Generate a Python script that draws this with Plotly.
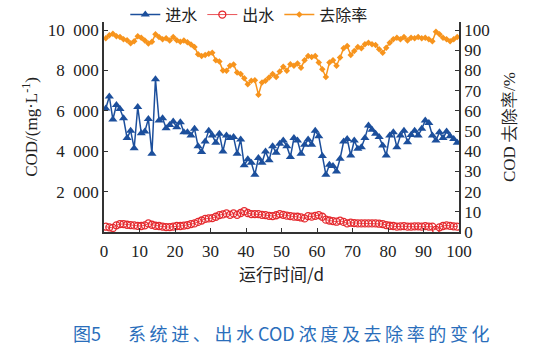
import plotly.graph_objects as go

# Day positions (one sample per day)
days = [d + 0.5 for d in range(100)]

influent = [6120, 6710, 5570, 6290, 6090, 5630, 4650, 5020, 4150, 6190,
            4890, 4975, 5600, 3880, 7570, 5520, 5630, 5140, 5300, 5470,
            5190, 5430, 4940, 4940, 4780, 5110, 4250, 3960, 4480, 5020,
            4780, 4420, 4860, 3990,
            4780, 4650, 4700, 3880, 4580, 3300, 3600, 3430, 2840, 3660,
            3430, 3990, 3550, 4250, 3920, 4370, 4530, 4250, 3710, 4650,
            4530, 3880, 4320, 4580, 4320, 5020, 4740, 3760, 2840, 3330,
            3270, 3000, 3630, 4480,
            4610, 3790, 4530, 4120, 4200, 4650, 5270, 5070, 4860, 4700,
            4290, 3790, 4780, 4940, 4200, 4780, 5020, 4450, 4810, 5020,
            4780, 5110, 5520, 5400, 4780, 4530, 4940, 4650, 4975, 4740,
            4610, 4420]

effluent = [263, 230, 200, 330, 394, 394, 360, 340, 328, 300,
            296, 330, 427, 360, 310, 296, 270, 240, 240, 263,
            296, 296, 320, 345, 394, 427, 500, 570, 650, 673,
            690, 755, 837, 870, 919, 850, 919, 850, 940, 1030,
            940, 887, 887, 887, 850, 837, 800, 788, 830, 887,
            850, 810, 788, 760, 755, 720, 673, 788, 760, 800,
            837, 755, 610, 570, 540, 509, 560, 500, 427, 460,
            440, 427, 427, 427, 427, 427, 427, 410, 394, 345,
            310, 296, 263, 280, 290, 263, 263, 280, 280, 263,
            290, 270, 263, 110, 230, 296, 330, 300, 280, 263]

removal = [95.9, 97.5, 98.2, 97, 96.6, 95.4, 95, 93.5, 94.5, 97,
           96.2, 94.9, 93.3, 94.2, 97.9, 96.6, 95.4, 95.9, 94.9, 96.6,
           95, 94.2, 94.9, 94, 92.8, 91.6, 88, 87.2, 87.7, 88.3,
           88.8, 85, 84.5, 80,
           79.8, 82.3, 83, 79, 78.2, 76.2, 73.2, 74.9, 75.2, 68,
           74, 74.9, 76.5, 78.2, 76.8, 79.5, 81.8, 79.8, 83.1, 82.3,
           83.4, 81.4, 85, 87.2, 86.7, 87.2, 84, 80.6, 76.8, 84,
           85, 82.3, 86.4,
           91, 92.1, 87.7, 89.6, 91.6, 91, 93, 93.7, 93, 92.6,
           90.5, 88.8, 91.3, 93.7, 95.4, 96.2, 95.4, 96.6, 94.9, 96.2,
           95.9, 96.6, 95.9, 96.2, 95.4, 94.5, 99.2, 97.9, 96.2, 95.4,
           94.5, 95.4, 96.6]

x_ticks = list(range(0, 101, 10))
left_ticks = [2000, 4000, 6000, 8000, 10000]
left_labels = ["2\u2002000", "4\u2002000", "6\u2002000", "8\u2002000", "10\u2002000"]
right_ticks = list(range(0, 101, 10))

BLUE = "#1c4f9c"
RED = "#e52a2f"
ORANGE = "#f7941d"
SERIF = "Liberation Serif, Times New Roman, serif"
CJK = "Noto Sans CJK SC, Liberation Serif, sans-serif"
TS = "\u2009"  # thin space used as letter spacing in the caption

fig = go.Figure()
fig.add_trace(go.Scatter(x=days, y=influent, name="进水", mode="lines+markers",
                         line=dict(color=BLUE, width=1.5),
                         marker=dict(symbol="triangle-up", size=8, color=BLUE)))
fig.add_trace(go.Scatter(x=days, y=effluent, name="出水", mode="lines+markers",
                         line=dict(color=RED, width=0.8),
                         marker=dict(symbol="circle-open", size=7, color=RED,
                                     line=dict(width=1.3, color=RED))))
fig.add_trace(go.Scatter(x=days, y=removal, name="去除率", mode="lines+markers",
                         yaxis="y2",
                         line=dict(color=ORANGE, width=1.5),
                         marker=dict(symbol="diamond", size=5, color=ORANGE)))

axis_common = dict(showgrid=False, zeroline=False, showline=True,
                   linecolor="#333333", linewidth=1.5,
                   ticks="inside", ticklen=4, tickcolor="#333333",
                   tickfont=dict(family=SERIF, size=17, color="#222222"))

fig.update_layout(
    width=549, height=353,
    margin=dict(l=104, r=89.5, t=21.5, b=121, autoexpand=False),
    paper_bgcolor="white", plot_bgcolor="white",
    showlegend=True,
    legend=dict(orientation="h", x=0.06, y=1.035, xanchor="left", yanchor="middle",
                font=dict(family=CJK, size=16, color="#222222"),
                bgcolor="rgba(0,0,0,0)", itemwidth=30, tracegroupgap=0),
    xaxis=dict(range=[0, 100], tickvals=x_ticks, mirror=False,
               ticklabelstandoff=3,
               title=dict(text="运行时间/d", font=dict(family=CJK, size=17, color="#222222"),
                          standoff=3),
               **axis_common),
    yaxis=dict(range=[0, 10400], tickvals=left_ticks, ticktext=left_labels,
               title=dict(text="COD/(mg·L<sup>-1</sup>)",
                          font=dict(family=SERIF, size=17, color="#222222"), standoff=6),
               **axis_common),
    yaxis2=dict(range=[0, 104], tickvals=right_ticks, overlaying="y", side="right",
                title=dict(text="COD 去除率/%",
                           font=dict(family=SERIF, size=17, color="#222222"), standoff=14),
                **axis_common),
)

caption = ("图5\u3000\u2002" + TS.join("系统进、出水") + " COD " + TS.join("浓度及去除率的变化"))
fig.add_annotation(text=caption,
                   xref="paper", yref="paper", x=0.5, y=-0.48, xanchor="center", yanchor="middle",
                   showarrow=False, font=dict(family=CJK, size=18, color="#2a6ebb"))

fig.write_html("out.html")
